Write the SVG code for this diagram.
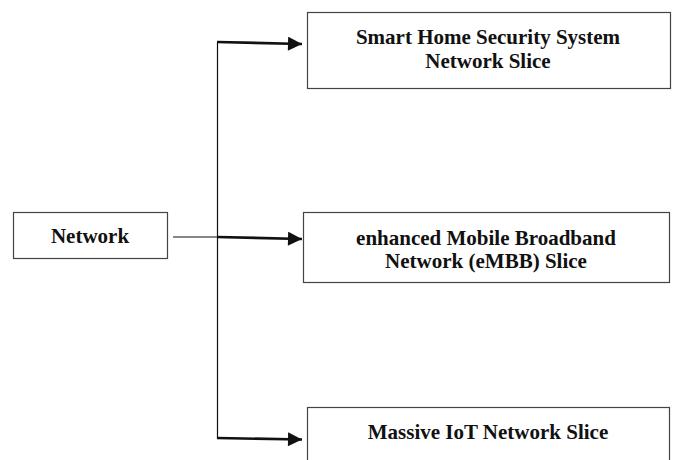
<svg xmlns="http://www.w3.org/2000/svg" width="675" height="460" viewBox="0 0 675 460">
  <style>
    .box { fill: #ffffff; stroke: #444444; stroke-width: 1.2; }
    .label { font-family: "Liberation Serif", "Times New Roman", serif; font-weight: bold; font-size: 21px; fill: #111111; text-anchor: middle; }
    .thin { stroke: #111111; stroke-width: 1.2; fill: none; }
    .thick { stroke: #111111; stroke-width: 2.6; fill: none; }
  </style>
  <defs>
    <marker id="arrow" viewBox="0 0 10 10" refX="10" refY="5" markerWidth="16" markerHeight="14" markerUnits="userSpaceOnUse" orient="auto">
      <path d="M0,0 L10,5 L0,10 z" fill="#111111"/>
    </marker>
  </defs>
  <rect width="675" height="460" fill="#ffffff"/>

  <g id="connectors">
    <!-- input line and vertical bus -->
    <line class="thin" x1="173" y1="237" x2="217" y2="237"/>
    <line class="thin" x1="217.5" y1="42" x2="217.5" y2="439"/>
    <!-- branches to the slices -->
    <line class="thick" x1="217" y1="42" x2="302" y2="44" marker-end="url(#arrow)"/>
    <line class="thick" x1="217" y1="237" x2="302" y2="239" marker-end="url(#arrow)"/>
    <line class="thick" x1="217" y1="438" x2="302" y2="439.5" marker-end="url(#arrow)"/>
  </g>

  <g id="network">
    <rect class="box" x="13.5" y="212.5" width="154" height="46"/>
    <text class="label" x="90" y="243">Network</text>
  </g>

  <g id="smart-home-slice">
    <rect class="box" x="307.5" y="12.5" width="363" height="76"/>
    <text class="label" x="488" y="44">Smart Home Security System</text>
    <text class="label" x="488" y="68">Network Slice</text>
  </g>

  <g id="embb-slice">
    <rect class="box" x="303.5" y="212.5" width="366" height="70"/>
    <text class="label" x="486" y="245">enhanced Mobile Broadband</text>
    <text class="label" x="486" y="268">Network (eMBB) Slice</text>
  </g>

  <g id="iot-slice">
    <rect class="box" x="307.5" y="407.5" width="362" height="70"/>
    <text class="label" x="488" y="439">Massive IoT Network Slice</text>
  </g>
</svg>
